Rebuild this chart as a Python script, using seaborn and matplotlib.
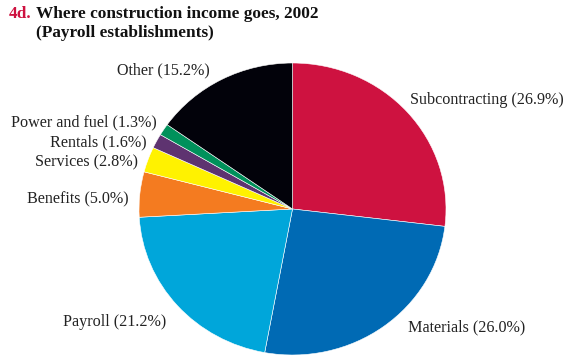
import matplotlib
matplotlib.use("Agg")
import matplotlib.pyplot as plt
import seaborn as sns

categories = ["Subcontracting", "Materials", "Payroll", "Benefits",
              "Services", "Rentals", "Power and fuel", "Other"]
values = [26.9, 26.0, 21.2, 5.0, 2.8, 1.6, 1.3, 15.2]
colors = ["#CE1240", "#006AB4", "#00A6DA", "#F47B20",
          "#FFF200", "#5E3370", "#00915B", "#02020A"]

# label anchor positions (pixels) and alignment
label_pos = {
    "Subcontracting": (410, 100, "left"),
    "Materials": (408, 327, "left"),
    "Payroll": (166, 322, "right"),
    "Benefits": (129, 199, "right"),
    "Services": (138, 162, "right"),
    "Rentals": (147, 142, "right"),
    "Power and fuel": (157, 122, "right"),
    "Other": (210, 70, "right"),
}

sns.set_theme(style="white")
plt.rcParams["font.family"] = ["Liberation Serif", "DejaVu Serif"]

W, H = 570, 362
fig = plt.figure(figsize=(W / 100, H / 100), dpi=100)
fig.patch.set_facecolor("white")

left, right, top, bottom = 139, 446, 63, 355
ax = fig.add_axes([left / W, (H - bottom) / H, (right - left) / W, (bottom - top) / H])
ax.pie(values, colors=colors, startangle=90, counterclock=False,
       wedgeprops=dict(edgecolor="white", linewidth=0.4))
ax.set_xlim(-1, 1)
ax.set_ylim(-1, 1)
ax.set_aspect("auto")
ax.axis("off")

for cat, val in zip(categories, values):
    x, y, ha = label_pos[cat]
    fig.text(x / W, (H - y) / H, f"{cat} ({val:.1f}%)", ha=ha, va="center",
             fontsize=11.6, color="#222222")

fig.text(9 / W, (H - 14) / H, "4d.", color="#CE1240", fontsize=12.4,
         fontweight="bold", ha="left", va="center")
fig.text(36 / W, (H - 14) / H, "Where construction income goes, 2002",
         color="#111111", fontsize=12.4, fontweight="bold", ha="left", va="center")
fig.text(36 / W, (H - 33) / H, "(Payroll establishments)",
         color="#111111", fontsize=12.4, fontweight="bold", ha="left", va="center")

fig.savefig("out.png", dpi=100, facecolor="white")
